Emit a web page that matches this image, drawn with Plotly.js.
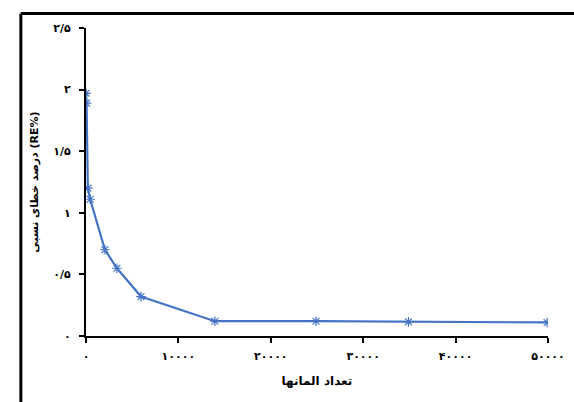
<!DOCTYPE html>
<html>
<head>
<meta charset="utf-8">
<script src="https://cdn.plot.ly/plotly-3.0.1.min.js"></script>
<style>html,body{margin:0;padding:0;background:#fff;}#chart{width:574px;height:402px;}</style>
</head>
<body>
<div id="chart"></div>
<script>
var elements = [10, 60, 200, 450, 2050, 3350, 5950, 13950, 24900, 34900, 49900];
var errorPct = [1.97, 1.89, 1.20, 1.11, 0.70, 0.55, 0.32, 0.12, 0.12, 0.115, 0.11];
var xTickVals = [0, 10000, 20000, 30000, 40000, 50000];
var xTickText = ["۰", "۱۰۰۰۰", "۲۰۰۰۰", "۳۰۰۰۰", "۴۰۰۰۰", "۵۰۰۰۰"];
var yTickVals = [0, 0.5, 1, 1.5, 2, 2.5];
var yTickText = ["۰", "۰/۵", "۱", "۱/۵", "۲", "۲/۵"];
var xTitle = "تعداد المانها";
var yTitle = "درصد خطای نسبی (RE%)";

var fontFam = "DejaVu Sans, sans-serif";
var trace = {
  x: elements, y: errorPct, type: "scatter", mode: "lines+markers",
  line: {color: "#4472C4", width: 2.2},
  marker: {symbol: "asterisk-open", size: 8, color: "#4472C4", line: {color: "#4472C4", width: 1.2}},
  hoverinfo: "none"
};
var layout = {
  width: 574, height: 402,
  margin: {l: 86, r: 26, t: 28, b: 66},
  paper_bgcolor: "#fff", plot_bgcolor: "#fff",
  showlegend: false,
  font: {family: fontFam, color: "#000", size: 11},
  xaxis: {
    range: [0, 50000], tickvals: xTickVals, ticktext: xTickText,
    showgrid: false, zeroline: false, showline: true, linecolor: "#000", linewidth: 2,
    ticks: "outside", ticklen: 5, tickwidth: 2, tickcolor: "#000",
    ticklabelstandoff: 4,
    tickfont: {family: fontFam, size: 11, color: "#000", weight: "bold"},
    title: {text: xTitle, font: {family: fontFam, size: 12, color: "#000", weight: "bold"}, standoff: 14}
  },
  yaxis: {
    range: [0, 2.5], tickvals: yTickVals, ticktext: yTickText,
    showgrid: false, zeroline: false, showline: true, linecolor: "#000", linewidth: 2,
    ticks: "outside", ticklen: 5, tickwidth: 2, tickcolor: "#000",
    ticklabelstandoff: 6,
    tickfont: {family: fontFam, size: 11, color: "#000", weight: "bold"},
    title: {text: yTitle, font: {family: fontFam, size: 11, color: "#000", weight: "bold"}, standoff: 12}
  },
  shapes: [
    {type: "line", xref: "paper", yref: "paper", x0: -0.141, x1: 1.06, y0: 1.047, y1: 1.047, line: {color: "#000", width: 3}},
    {type: "line", xref: "paper", yref: "paper", x0: -0.141, x1: -0.141, y0: 1.047, y1: -0.3, line: {color: "#000", width: 3}}
  ]
};
Plotly.newPlot("chart", [trace], layout, {displayModeBar: false, staticPlot: true});
</script>
</body>
</html>
